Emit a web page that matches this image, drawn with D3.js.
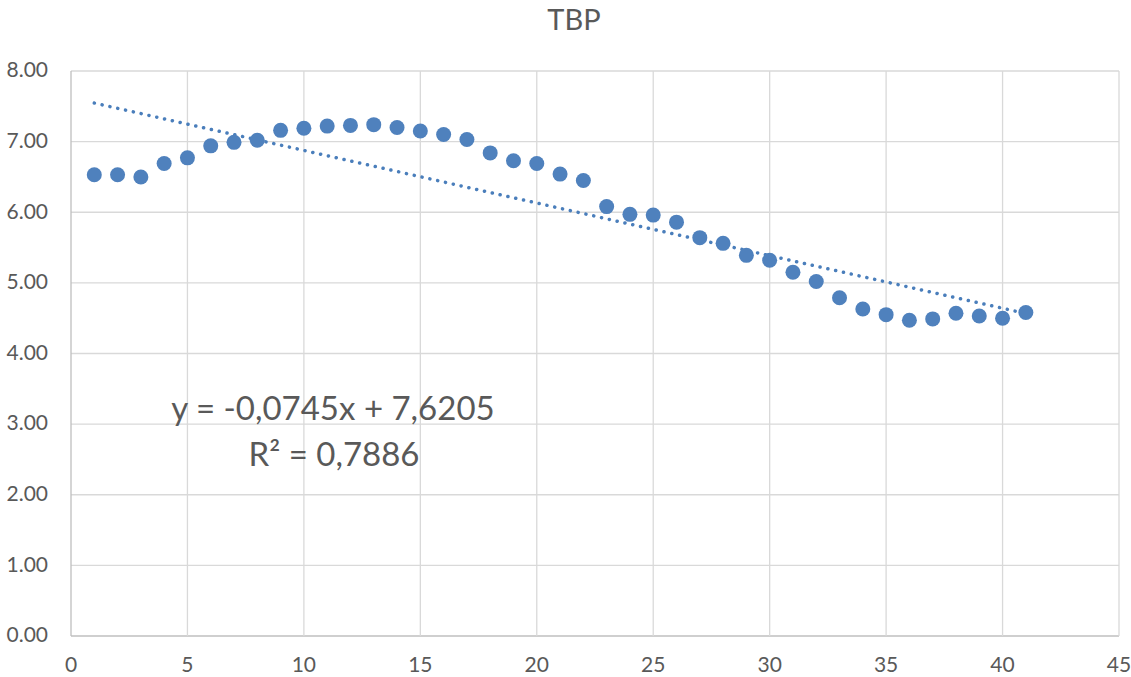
<!DOCTYPE html>
<html>
<head>
<meta charset="utf-8">
<script src="https://cdn.jsdelivr.net/npm/d3@7"></script>
<style>
  body { margin: 0; background: #fff; }
  svg text { font-family: Lato, "Open Sans", sans-serif; fill: #595959; }
</style>
</head>
<body>
<div id="chart"></div>
<script>
// dados
var chartTitle = "TBP";
var xValues = d3.range(1, 42);
var yValues = [6.53, 6.53, 6.50, 6.69, 6.77, 6.94, 6.99, 7.02, 7.16, 7.19,
               7.22, 7.23, 7.24, 7.20, 7.15, 7.10, 7.03, 6.84, 6.73, 6.69,
               6.54, 6.45, 6.08, 5.97, 5.96, 5.86, 5.64, 5.56, 5.39, 5.32,
               5.15, 5.02, 4.79, 4.63, 4.55, 4.47, 4.49, 4.57, 4.53, 4.50, 4.58];
var trendSlope = -0.0745;
var trendIntercept = 7.6205;
var trendLabel = "y = -0,0745x + 7,6205";
var r2Label = "R² = 0,7886";
var xTicks = [0, 5, 10, 15, 20, 25, 30, 35, 40, 45];
var yTicks = [0, 1, 2, 3, 4, 5, 6, 7, 8];

var width = 1131, height = 677;
var margin = { top: 71, right: 12, bottom: 41, left: 71 };

var svg = d3.select("#chart").append("svg")
    .attr("width", width)
    .attr("height", height);

var x = d3.scaleLinear().domain([0, 45]).range([margin.left, width - margin.right]);
var y = d3.scaleLinear().domain([0, 8]).range([height - margin.bottom, margin.top]);

// grade
svg.append("g").selectAll("line.h")
    .data(yTicks)
    .join("line")
    .attr("x1", x(0)).attr("x2", x(45))
    .attr("y1", d => y(d)).attr("y2", d => y(d))
    .attr("stroke", d => d === 0 ? "#bfbfbf" : "#d9d9d9")
    .attr("stroke-width", 1.3);

svg.append("g").selectAll("line.v")
    .data(xTicks)
    .join("line")
    .attr("x1", d => x(d)).attr("x2", d => x(d))
    .attr("y1", y(0)).attr("y2", y(8))
    .attr("stroke", d => d === 0 ? "#bfbfbf" : "#d9d9d9")
    .attr("stroke-width", 1.3);

// rótulos dos eixos
svg.append("g").selectAll("text")
    .data(yTicks)
    .join("text")
    .attr("x", 48)
    .attr("y", d => y(d) + 1)
    .attr("text-anchor", "end")
    .attr("dominant-baseline", "middle")
    .style("font-size", "21px")
    .text(d => d3.format(".2f")(d));

svg.append("g").selectAll("text")
    .data(xTicks)
    .join("text")
    .attr("x", d => x(d))
    .attr("y", y(0) + 36)
    .attr("text-anchor", "middle")
    .style("font-size", "21px")
    .text(d => d);

// título
svg.append("text")
    .attr("x", 574)
    .attr("y", 30)
    .attr("text-anchor", "middle")
    .style("font-size", "29px")
    .text(chartTitle);

// linha de tendência
var trendX = [d3.min(xValues), d3.max(xValues)];
svg.append("line")
    .attr("x1", x(trendX[0])).attr("y1", y(trendSlope * trendX[0] + trendIntercept))
    .attr("x2", x(trendX[1])).attr("y2", y(trendSlope * trendX[1] + trendIntercept))
    .attr("stroke", "#4a7ebb")
    .attr("stroke-width", 3.5)
    .attr("stroke-linecap", "round")
    .attr("stroke-dasharray", "0.1 7.9");

// pontos
svg.append("g").selectAll("circle")
    .data(xValues.map((d, i) => [d, yValues[i]]))
    .join("circle")
    .attr("cx", d => x(d[0]))
    .attr("cy", d => y(d[1]))
    .attr("r", 7.5)
    .attr("fill", "#4f81bd");

// equação
svg.append("text")
    .attr("x", 333)
    .attr("y", 420)
    .attr("text-anchor", "middle")
    .style("font-size", "33px")
    .text(trendLabel);

svg.append("text")
    .attr("x", 334)
    .attr("y", 466)
    .attr("text-anchor", "middle")
    .style("font-size", "33px")
    .text(r2Label);
</script>
</body>
</html>
